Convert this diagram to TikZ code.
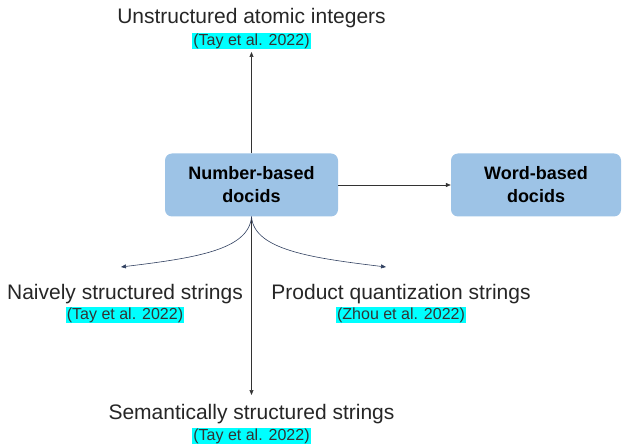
\documentclass[tikz,border=0pt]{standalone}
\usepackage{fontspec}
\setmainfont{Liberation Sans}
\usetikzlibrary{arrows.meta}
\definecolor{boxblue}{HTML}{9DC3E6}
\definecolor{curvenavy}{HTML}{2F3F5F}
\definecolor{citecyan}{HTML}{00FFFF}
\tikzset{
    docbox/.style={fill=boxblue,rounded corners=7pt,minimum width=173pt,minimum height=63pt,align=center,font=\fontsize{18}{23}\selectfont\bfseries},
    kind/.style={font=\fontsize{21}{24}\selectfont,text=black!85,inner sep=0pt},
    cite/.style={fill=citecyan,font=\fontsize{16}{18}\selectfont,text=black!80,inner sep=1pt},
    plainarrow/.style={-{Triangle[length=5pt,width=4pt]},black!80,line width=0.6pt},
    curvearrow/.style={-{Triangle[length=5pt,width=4pt]},curvenavy,line width=0.6pt}
}
\begin{document}
\begin{tikzpicture}[x=1pt,y=-1pt]
\useasboundingbox (0,0) rectangle (624,446);
% boxes
\node[docbox] (number) at (251.5,185) {Number-based\\docids};
\node[docbox,minimum width=170pt] (word) at (536,185) {Word-based\\docids};
% labels
\node[kind] (unstr) at (251.5,18) {Unstructured atomic integers};
\node[cite] (unstrcite) at (251.5,41) {(Tay et al. 2022)};
\node[kind] (naive) at (125,294) {Naively structured strings};
\node[cite] (naivecite) at (125,315) {(Tay et al. 2022)};
\node[kind] (pq) at (401,294) {Product quantization strings};
\node[cite] (pqcite) at (401,315) {(Zhou et al. 2022)};
\node[kind] (sem) at (251.5,414) {Semantically structured strings};
\node[cite] (semcite) at (251.5,436) {(Tay et al. 2022)};
% arrow ends
\coordinate (topend) at (251.5,52);
\coordinate (leftend) at (121,267);
\coordinate (rightend) at (386,267);
\coordinate (downend) at (251.5,395);
% connectors
\draw[plainarrow] (number) -- (word);
\draw[plainarrow] (number.north) -- (topend);
\draw[plainarrow] (number.south) -- (downend);
\draw[curvearrow] (number.south) .. controls (249,250) and (195,258) .. (leftend);
\draw[curvearrow] (number.south) .. controls (254,250) and (312,258) .. (rightend);
\end{tikzpicture}
\end{document}
